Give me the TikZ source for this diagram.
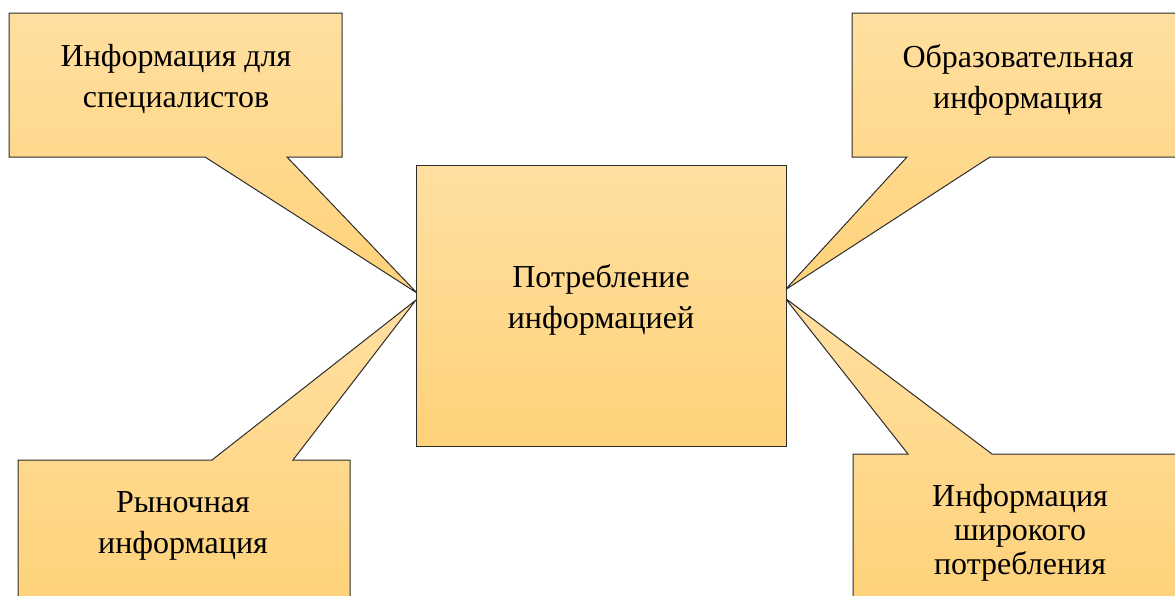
\documentclass[tikz,border=0pt]{standalone}
\usepackage{fontspec}
\setmainfont{Liberation Serif}
\definecolor{goldtop}{RGB}{255,223,160}
\definecolor{goldbot}{RGB}{254,210,122}
\definecolor{edge}{RGB}{45,45,45}
\begin{document}
\begin{tikzpicture}[x=1pt,y=-1pt,
  callout/.style={draw=edge, line width=1pt, line join=miter, top color=goldtop, bottom color=goldbot},
  label/.style={align=center, font=\fontsize{32}{41}\selectfont, inner sep=0pt}]
\useasboundingbox (0,0) rectangle (1175,595);
\clip (0,0) rectangle (1175,595);

% pointer tips on the sides of the central box
\coordinate (tipTL) at (417,293);
\coordinate (tipBL) at (416,300);
\coordinate (tipTR) at (785,290);
\coordinate (tipBR) at (785,298);

% callouts
\path[callout] (9,13) -- (342,13) -- (342,157) -- (287,157) -- (tipTL) -- (205,157) -- (9,157) -- cycle;
\path[callout] (852,13) -- (1185,13) -- (1185,157) -- (990,157) -- (tipTR) -- (907,157) -- (852,157) -- cycle;
\path[callout] (18,460) -- (212,460) -- (tipBL) -- (293,460) -- (350,460) -- (350,605) -- (18,605) -- cycle;
\path[callout] (853,454) -- (908,454) -- (tipBR) -- (992,454) -- (1185,454) -- (1185,605) -- (853,605) -- cycle;

% central box
\node[callout, rectangle, minimum width=370pt, minimum height=281pt, inner sep=0pt] (center) at (601,305.5) {};

% texts
\node[label] (tcenter) at (601,300) {Потребление\\информацией};
\node[label] (ttl) at (176,79) {Информация для\\специалистов};
\node[label] (ttr) at (1018,80) {Образовательная\\информация};
\node[label] (tbl) at (183,526) {Рыночная\\информация};
\node[label, font=\fontsize{32}{34}\selectfont] (tbr) at (1020,533) {Информация\\широкого\\потребления};
\end{tikzpicture}
\end{document}
